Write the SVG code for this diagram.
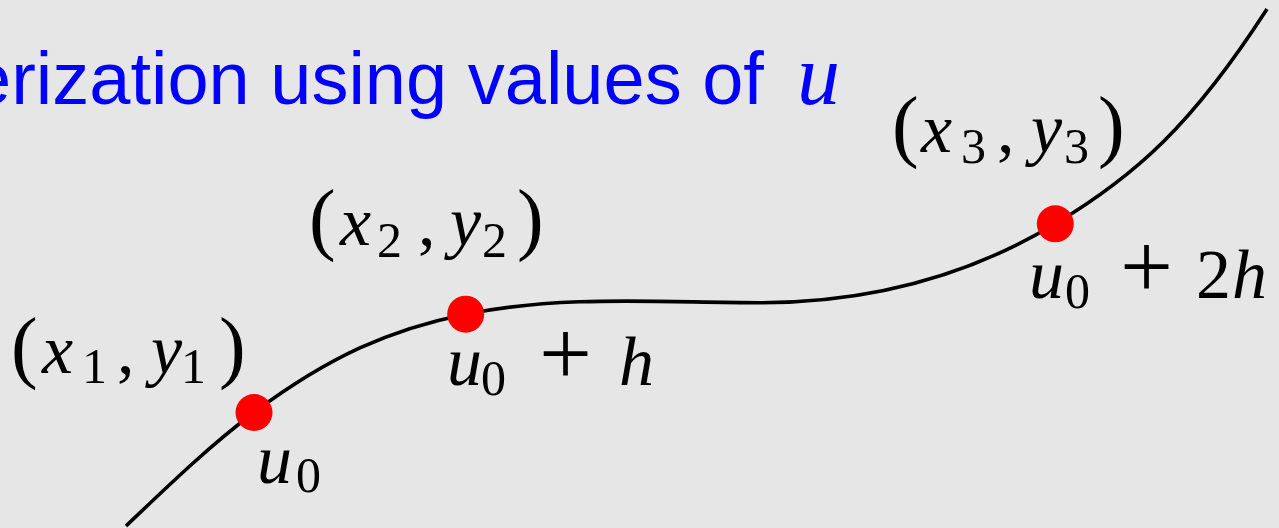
<svg xmlns="http://www.w3.org/2000/svg" width="1279" height="528" viewBox="0 0 1279 528">
<style>
.title{font-family:"Liberation Sans",Arial,sans-serif;font-size:74px;fill:#0000ff}
.math{font-family:"Liberation Serif","Times New Roman",serif;font-size:70px;fill:#000}
.it{font-style:italic}
.sub{font-size:50px}
.par{font-size:80px}
.plus{font-size:94px}
.dot{fill:#ff0000}
.curve{fill:none;stroke:#000;stroke-width:3.6}
</style>
<rect x="0" y="0" width="1279" height="528" fill="#e6e6e6"/>
<g id="title">
<text class="title" x="-30" y="104">erization using values of</text>
<text class="title" x="797" y="104" style="font-family:'Liberation Serif','Times New Roman',serif;font-style:italic;font-size:86px">u</text>
</g>
<g id="connectors">
<path class="curve" d="M126,526 C169,485 211,444.5 254,412.5 C329,356.5 390.7,329.2 465.7,314.2 C563.7,294.6 662,302.7 760,302.7 C858,302.7 957.3,282.6 1055.3,223.8 C1135.3,175.8 1192,125.3 1267,9"/>
</g>
<g id="p1">
<circle class="dot" cx="254" cy="412.5" r="18.5"/>
<text class="math"><tspan class="par" x="11" y="373">(</tspan><tspan class="it" x="42" y="373">x</tspan><tspan class="sub" x="82" y="383">1</tspan><tspan x="117" y="373">,</tspan><tspan class="it" x="151" y="373">y</tspan><tspan class="sub" x="181" y="383">1</tspan><tspan class="par" x="219" y="373">)</tspan></text>
<text class="math"><tspan class="it" x="257" y="483">u</tspan><tspan class="sub" x="296" y="492">0</tspan></text>
</g>
<g id="p2">
<circle class="dot" cx="465.7" cy="314.2" r="18.5"/>
<text class="math"><tspan class="par" x="309" y="245">(</tspan><tspan class="it" x="340" y="245">x</tspan><tspan class="sub" x="377" y="257">2</tspan><tspan x="418" y="245">,</tspan><tspan class="it" x="450" y="245">y</tspan><tspan class="sub" x="482" y="257">2</tspan><tspan class="par" x="517" y="245">)</tspan></text>
<text class="math"><tspan class="it" x="447" y="385">u</tspan><tspan class="sub" x="481" y="395">0</tspan><tspan class="plus" x="539" y="385">+</tspan><tspan class="it" x="619" y="385">h</tspan></text>
</g>
<g id="p3">
<circle class="dot" cx="1055.3" cy="223.8" r="18.5"/>
<text class="math"><tspan class="par" x="892" y="152">(</tspan><tspan class="it" x="921" y="152">x</tspan><tspan class="sub" x="961" y="163">3</tspan><tspan x="997" y="152">,</tspan><tspan class="it" x="1031" y="152">y</tspan><tspan class="sub" x="1064" y="163">3</tspan><tspan class="par" x="1098" y="152">)</tspan></text>
<text class="math"><tspan class="it" x="1029" y="298">u</tspan><tspan class="sub" x="1065" y="308">0</tspan><tspan class="plus" x="1120" y="298">+</tspan><tspan x="1196" y="298">2</tspan><tspan class="it" x="1232" y="298">h</tspan></text>
</g>
</svg>
